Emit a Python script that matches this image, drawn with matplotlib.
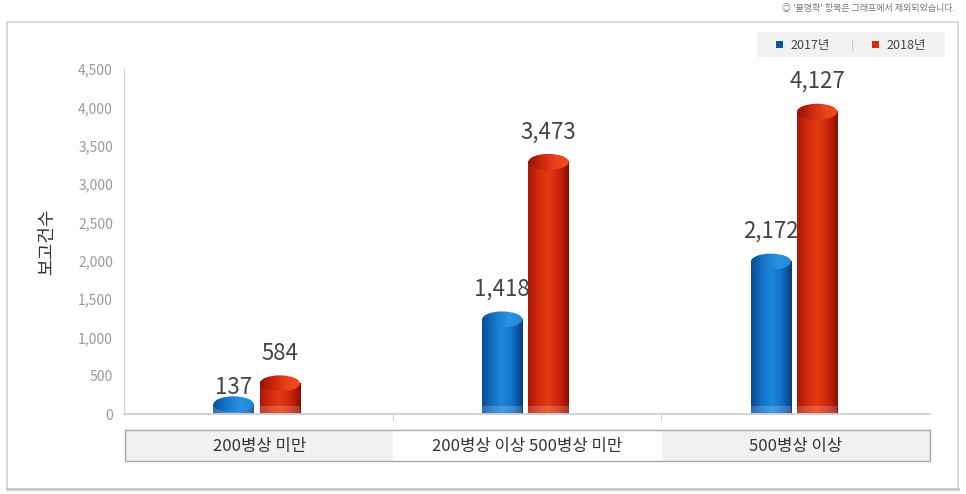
import matplotlib.pyplot as plt
import numpy as np
from matplotlib.colors import LinearSegmentedColormap
from matplotlib.patches import Ellipse, Rectangle

plt.rcParams['font.family'] = ['Noto Sans CJK KR', 'DejaVu Sans']

categories = ["200병상 미만", "200병상 이상 500병상 미만", "500병상 이상"]
years = ["2017년", "2018년"]
values_2017 = [137, 1418, 2172]
values_2018 = [584, 3473, 4127]
yticks = [0, 500, 1000, 1500, 2000, 2500, 3000, 3500, 4000, 4500]

W, H = 966, 494
fig = plt.figure(figsize=(W / 100, H / 100), dpi=100)

# outer frame (pixel coords)
frame = fig.add_axes([0, 0, 1, 1])
frame.set_xlim(0, W)
frame.set_ylim(H, 0)
frame.axis("off")
frame.plot([7, 7, 958, 958], [489, 22, 22, 489], color="#d4d4d4", lw=1.2)
frame.plot([7, 958], [489, 489], color="#c8c8c8", lw=2)
frame.text(955, 8, "◎ '불명확' 항목은 그래프에서 제외되었습니다.", ha="right", va="center",
           fontsize=6.5, color="#777777")

# legend box
frame.add_patch(Rectangle((757, 32), 188, 25, facecolor="#f1f1f1", edgecolor="none"))
frame.add_patch(Rectangle((776, 41), 7, 7, facecolor="#0d57a0", edgecolor="none"))
frame.text(790, 45, years[0], ha="left", va="center", fontsize=9, color="#444444")
frame.plot([852, 852], [40, 50], color="#cccccc", lw=0.8)
frame.add_patch(Rectangle((872, 41), 7, 7, facecolor="#d0300e", edgecolor="none"))
frame.text(886, 45, years[1], ha="left", va="center", fontsize=9, color="#444444")

# category label boxes
box_x0, box_x1, box_y0, box_y1 = 125, 930, 430, 461
cw = (box_x1 - box_x0) / len(categories)
for i, cat in enumerate(categories):
    fc = "#ffffff" if i == 1 else "#f1f1f1"
    frame.add_patch(Rectangle((box_x0 + i * cw, box_y0), cw, box_y1 - box_y0,
                              facecolor=fc, edgecolor="none"))
    frame.text(box_x0 + (i + 0.5) * cw, (box_y0 + box_y1) / 2 + 1, cat, ha="center",
               va="center", fontsize=12, color="#333333")
frame.add_patch(Rectangle((box_x0, box_y0), box_x1 - box_x0, box_y1 - box_y0,
                          facecolor="none", edgecolor="#a8a8a8", lw=1))

ax = fig.add_axes([124 / W, (H - 414) / H, 806 / W, 345 / H])
ax.set_xlim(-0.5, 2.5)
ax.set_ylim(0, 4500)
ax.set_facecolor("none")
for s in ["top", "right"]:
    ax.spines[s].set_visible(False)
ax.spines["left"].set_color("#d0d0d0")
ax.spines["bottom"].set_color("#cccccc")
ax.spines["bottom"].set_linewidth(1.2)
ax.set_yticks(yticks)
ax.set_yticklabels([f"{v:,}" for v in yticks], fontsize=10, color="#9a9a9a")
ax.tick_params(axis="y", length=0, pad=8)
ax.set_xticks([0.5, 1.5])
ax.set_xticklabels([])
ax.tick_params(axis="x", length=5, color="#cccccc")
ax.set_ylabel("보고건수", fontsize=13, color="#333333", labelpad=16)

blue_body = LinearSegmentedColormap.from_list(
    "bb", ["#0b4a92", "#1270c4", "#1b88dd", "#1270c4", "#0a3d7c"])
blue_top = LinearSegmentedColormap.from_list(
    "bt", ["#0a4f98", "#1677cc", "#2a92e4", "#1f86d8"])
red_body = LinearSegmentedColormap.from_list(
    "rb", ["#a8170a", "#d22c0f", "#e23a10", "#cc260b", "#8a0e05"])
red_top = LinearSegmentedColormap.from_list(
    "rt", ["#8f1406", "#c8280d", "#e8421a", "#f04d1e"])

grad = np.linspace(0, 1, 100).reshape(1, -1)
bw = 0.15
offsets = [-0.092, 0.08]
eh = 210  # ellipse height in data units


def cylinder(xc, v, body_cmap, top_cmap):
    x0, x1 = xc - bw / 2, xc + bw / 2
    ytop = max(v - 185, eh * 0.6)
    ax.imshow(grad, cmap=body_cmap, extent=[x0, x1, 0, ytop], aspect="auto",
              zorder=2, interpolation="bicubic")
    ax.add_patch(Rectangle((x0, 0), bw, 105, facecolor="white", alpha=0.18,
                           edgecolor="none", zorder=3))
    el = Ellipse((xc, ytop), bw, eh, facecolor="none", edgecolor="none", zorder=4)
    ax.add_patch(el)
    im = ax.imshow(grad, cmap=top_cmap, extent=[x0, x1, ytop - eh / 2, ytop + eh / 2],
                   aspect="auto", zorder=4, interpolation="bicubic")
    im.set_clip_path(el)
    ax.text(xc, v + 210, f"{v:,}", ha="center", va="center", fontsize=16,
            color="#444444", zorder=5)


for i in range(len(categories)):
    cylinder(i + offsets[0], values_2017[i], blue_body, blue_top)
    cylinder(i + offsets[1], values_2018[i], red_body, red_top)

ax.set_xlim(-0.5, 2.5)
ax.set_ylim(0, 4500)

fig.savefig("out.png", dpi=100)
